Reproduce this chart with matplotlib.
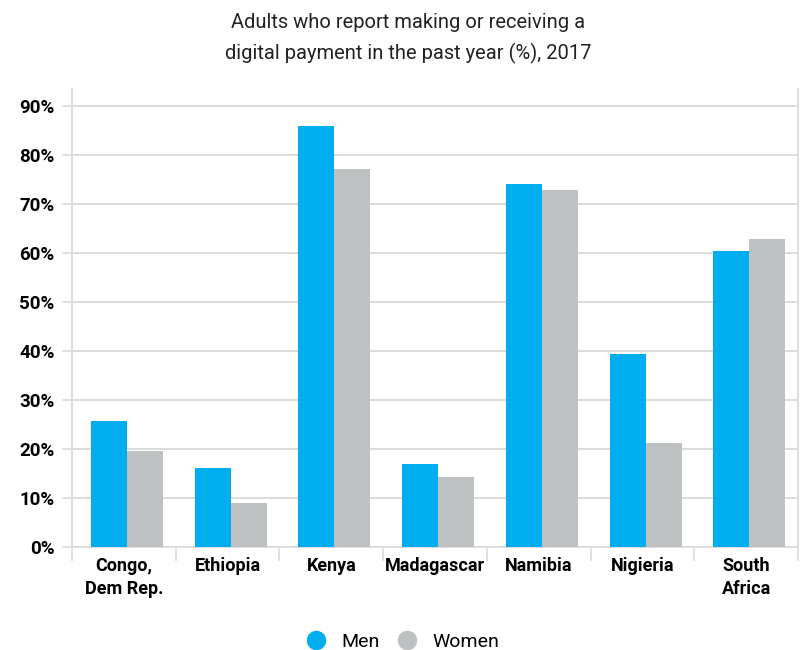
import numpy as np
from matplotlib import pyplot as plt
from matplotlib.lines import Line2D

# Data
countries = ['Congo,\nDem Rep.', 'Ethiopia', 'Kenya', 'Madagascar',
             'Namibia', 'Nigieria', 'South\nAfrica']
men = [25.6, 16.1, 85.8, 16.9, 74.0, 39.3, 60.3]
women = [19.5, 8.9, 77.1, 14.2, 72.8, 21.3, 62.8]
yticks = [0, 10, 20, 30, 40, 50, 60, 70, 80, 90]

blue = '#00AEEF'
grey = '#BEC1C2'
gridc = '#DCDCDC'

plt.rcParams['font.family'] = ['Roboto', 'DejaVu Sans']

fig = plt.figure(figsize=(8.09, 6.5), dpi=100)
ax = fig.add_axes([72/809, 103/650, 726/809, 458/650])

x = np.arange(len(countries)) + 0.03
w = 0.347
ax.bar(x - w/2, men, width=w, color=blue, zorder=3)
ax.bar(x + w/2, women, width=w, color=grey, zorder=3)

ax.set_xlim(-0.5, len(countries) - 0.5)
ax.set_ylim(0, 93.4)

ax.set_yticks(yticks)
ax.set_yticklabels([f'{t}%' for t in yticks], fontsize=13.5, fontweight='bold')
ax.yaxis.grid(True, color=gridc, linewidth=1.4, zorder=0)
ax.tick_params(axis='y', length=7.5, color=gridc, width=1.2, pad=5)

# category boundaries as ticks, labels at centres
ax.set_xticks(np.arange(len(countries) + 1) - 0.5)
ax.set_xticklabels([])
ax.set_xticks(np.arange(len(countries)), minor=True)
ax.set_xticklabels(countries, minor=True, fontsize=13, fontweight='bold',
                   linespacing=1.35)
ax.tick_params(axis='x', which='major', length=10, color=gridc, width=1.2)
ax.tick_params(axis='x', which='minor', length=0, pad=7)

for side in ['left', 'right', 'bottom']:
    ax.spines[side].set_color(gridc)
    ax.spines[side].set_linewidth(1.4)
ax.spines['top'].set_visible(False)

fig.text(0.505, 1 - 23/650, 'Adults who report making or receiving a',
         ha='center', va='center', fontsize=14.5, color='#222222')
fig.text(0.505, 1 - 53/650, 'digital payment in the past year (%), 2017',
         ha='center', va='center', fontsize=14.5, color='#222222')

handles = [Line2D([], [], marker='o', linestyle='', markersize=13, color=blue),
           Line2D([], [], marker='o', linestyle='', markersize=13, color=grey)]
fig.legend(handles, ['Men', 'Women'], loc='center', ncol=2,
           bbox_to_anchor=(0.492, 1 - 642/650), frameon=False, fontsize=14,
           handletextpad=0.3, columnspacing=0.4)

fig.savefig('out.png', dpi=100)
